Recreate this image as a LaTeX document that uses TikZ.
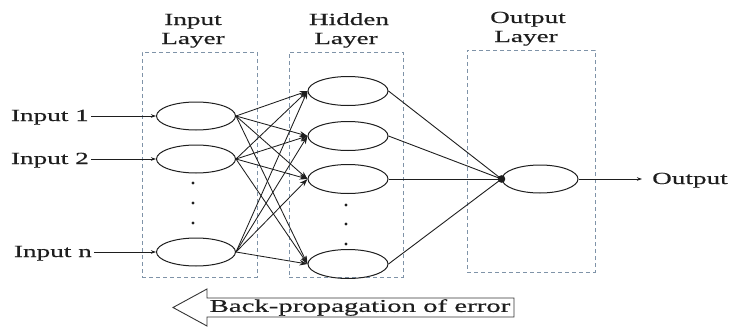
\documentclass[tikz,border=0pt]{standalone}
\usepackage{fontspec}
\setmainfont[FakeStretch=1.6,FakeBold=0.4]{Liberation Serif}
\usetikzlibrary{arrows.meta,shapes.geometric}
\definecolor{boxblue}{HTML}{7F93A8}
\definecolor{ink}{HTML}{1E1E1E}
\begin{document}
\begin{tikzpicture}[x=1pt,y=-1pt,
  neuron/.style={ellipse, draw=ink, line width=1pt, inner sep=0pt, minimum width=79pt, minimum height=28pt},
  layerbox/.style={draw=boxblue, dash pattern=on 4pt off 3pt, line width=0.8pt, inner sep=0pt},
  lbl/.style={font=\fontsize{17}{19}\selectfont, text=ink, inner sep=0pt, anchor=base},
  inlbl/.style={font=\fontsize{17}{19}\selectfont, text=ink, inner sep=2pt},
  conn/.style={draw=ink, line width=0.85pt, -{Stealth[length=8pt,width=5.5pt]}},
  inarr/.style={draw=ink, line width=0.8pt, -{Stealth[length=5pt,width=3.5pt]}},
  hconn/.style={draw=ink, line width=0.9pt},
  vdot/.style={fill=ink, circle, inner sep=0pt, minimum size=3.2pt}
]
\useasboundingbox (0,0) rectangle (729,327);

% layer boxes
\node[layerbox, minimum width=115pt, minimum height=225pt] (binput) at (199.5,164.5) {};
\node[layerbox, minimum width=114pt, minimum height=225pt] (bhidden) at (346,164.5) {};
\node[layerbox, minimum width=128pt, minimum height=222pt] (boutput) at (531,161) {};

% layer labels
\node[lbl] (tin1) at (193,25) {Input};
\node[lbl] (tin2) at (193,44) {Layer};
\node[lbl] (thid1) at (349,25) {Hidden};
\node[lbl] (thid2) at (346,44) {Layer};
\node[lbl] (tout1) at (528,23) {Output};
\node[lbl] (tout2) at (526,42) {Layer};

% input neurons
\node[neuron] (i1) at (196,116) {};
\node[neuron] (i2) at (196,159) {};
\node[neuron] (in) at (196,252) {};
% hidden neurons
\node[neuron, minimum width=80pt, minimum height=29pt] (h1) at (348,91) {};
\node[neuron, minimum width=80pt, minimum height=29pt] (h2) at (348,136) {};
\node[neuron, minimum width=80pt, minimum height=29pt] (h3) at (348,179) {};
\node[neuron, minimum width=80pt, minimum height=29pt] (hn) at (348,264) {};
% output neuron
\node[neuron, minimum width=76pt] (o) at (540,179) {};

% vertical dots
\node[vdot] (d1) at (193,183) {};
\node[vdot] (d2) at (193,203) {};
\node[vdot] (d3) at (193,223) {};
\node[vdot] (e1) at (346,205) {};
\node[vdot] (e2) at (346,224) {};
\node[vdot] (e3) at (346,244) {};

% input labels
\node[inlbl, anchor=base east] (l1) at (91,121) {Input 1};
\node[inlbl, anchor=base east] (l2) at (91,164) {Input 2};
\node[inlbl, anchor=base east] (ln) at (94,257) {Input n};
\draw[inarr] (l1.east |- i1.west) -- (i1.west);
\draw[inarr] (l2.east |- i2.west) -- (i2.west);
\draw[inarr] (ln.east |- in.west) -- (in.west);

% input -> hidden
\foreach \a in {i1,i2,in}{
  \foreach \b in {h1,h2,h3,hn}{
    \draw[conn] (\a.east) -- (\b.west);
  }
}

% hidden -> output
\foreach \b in {h1,h2,h3,hn}{
  \draw[hconn] (\b.east) -- (o.west);
}
\fill[ink] (o.west) circle (3.8pt);

% output
\node[inlbl, anchor=base west] (tout) at (650,184) {Output};
\draw[inarr, shorten >=8pt] (o.east) -- (tout.west |- o.east);

% back-propagation arrow
\draw[draw=ink!90, line width=0.9pt, fill=white]
  (173,307.5) -- (207,289) -- (207,298) -- (514,298) -- (514,317) -- (207,317) -- (207,326) -- cycle;
\node[font=\fontsize{18}{20}\selectfont, text=ink, inner sep=0pt] (bp) at (360,307.5) {Back-propagation of error};
\end{tikzpicture}
\end{document}
